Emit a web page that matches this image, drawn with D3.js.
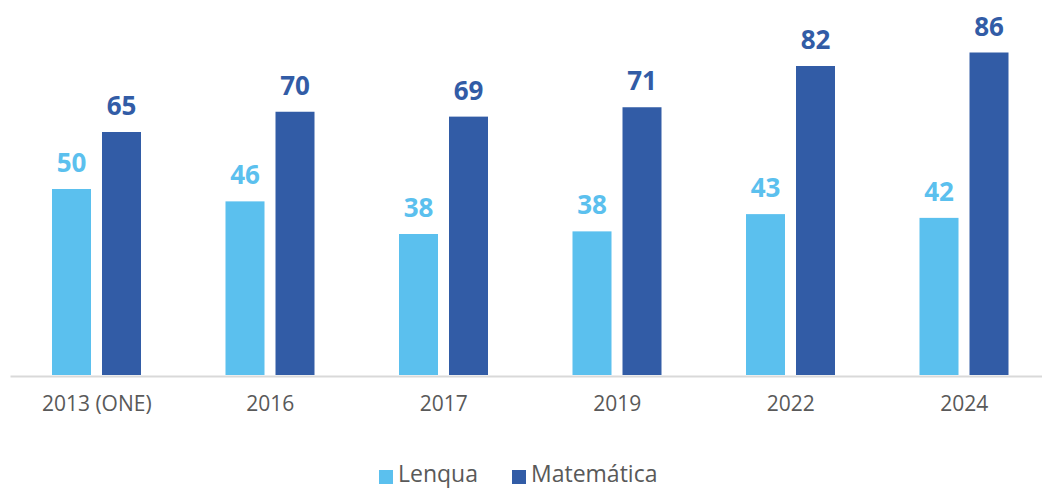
<!DOCTYPE html>
<html>
<head>
<meta charset="utf-8">
<script src="https://cdn.jsdelivr.net/npm/d3@7"></script>
<style>
  html, body { margin: 0; padding: 0; background: #fff; }
  svg { display: block; }
  text { font-family: "Open Sans", "Noto Sans", sans-serif; }
</style>
</head>
<body>
<svg id="chart" width="1042" height="489"></svg>
<script>
const categories = ["2013 (ONE)", "2016", "2017", "2019", "2022", "2024"];
const seriesNames = ["Lenqua", "Matemática"];
const lenquaValues = [49.6, 46.3, 37.6, 38.3, 42.9, 41.9];
const matematicaValues = [64.8, 70.2, 68.9, 71.4, 82.4, 86.0];
const lenquaLabels = [50, 46, 38, 38, 43, 42];
const matematicaLabels = [65, 70, 69, 71, 82, 86];
const colors = ["#5BC0EE", "#325CA6"];

const series = [
  { name: seriesNames[0], values: lenquaValues, labels: lenquaLabels, color: colors[0] },
  { name: seriesNames[1], values: matematicaValues, labels: matematicaLabels, color: colors[1] }
];

const svg = d3.select("#chart");
const baseline = 375;

const x0 = d3.scaleBand().domain(categories).range([10, 1051]).paddingInner(0).paddingOuter(0);
const x1 = d3.scaleBand().domain(seriesNames).range([42, 42 + 89]).paddingInner(0.22);
const y = d3.scaleLinear().domain([0, 100]).range([baseline, 0]);

// bars
const groups = svg.append("g").selectAll("g")
  .data(categories)
  .join("g")
  .attr("transform", d => `translate(${x0(d)},0)`);

series.forEach(s => {
  groups.append("rect")
    .attr("x", x1(s.name))
    .attr("width", x1.bandwidth())
    .attr("y", (d, i) => y(s.values[i]))
    .attr("height", (d, i) => baseline - y(s.values[i]))
    .attr("fill", s.color);
  groups.append("text")
    .attr("x", x1(s.name) + x1.bandwidth() / 2)
    .attr("y", (d, i) => y(s.values[i]) - 17)
    .attr("text-anchor", "middle")
    .attr("font-size", 26)
    .attr("font-weight", 700)
    .attr("fill", s.color)
    .text((d, i) => s.labels[i]);
});

// x axis
const xAxis = d3.axisBottom(x0).tickSize(0).tickPadding(0);
const ax = svg.append("g").attr("transform", `translate(0,${baseline + 1})`).call(xAxis);
ax.select(".domain").attr("stroke", "#d9d9d9").attr("stroke-width", 2);
ax.selectAll("text")
  .attr("font-size", 21)
  .attr("fill", "#595959")
  .attr("dy", null)
  .attr("y", 35)
  .style("font-family", "'Open Sans', sans-serif");

// legend
const legendItems = [
  { name: seriesNames[0], color: colors[0], x: 379 },
  { name: seriesNames[1], color: colors[1], x: 512 }
];
const lg = svg.append("g");
legendItems.forEach(it => {
  lg.append("rect").attr("x", it.x).attr("y", 470).attr("width", 14).attr("height", 14).attr("fill", it.color);
  lg.append("text").attr("x", it.x + 19).attr("y", 482)
    .attr("font-size", 23).attr("fill", "#595959").text(it.name);
});
</script>
</body>
</html>
